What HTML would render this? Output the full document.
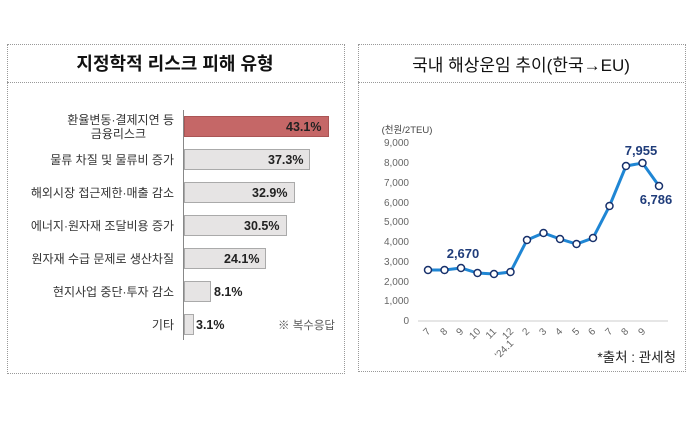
<!DOCTYPE html>
<html><head><meta charset="utf-8"><style>
body{margin:0;width:698px;height:447px;background:#fff;font-family:"Liberation Sans","Noto Sans CJK KR",sans-serif;overflow:hidden;position:relative}
.box{position:absolute;border:1px dotted #999}
.t{position:absolute;white-space:nowrap}
.bar{position:absolute;left:184px;height:21px;background:#e6e4e4;border:1px solid #aaa;box-sizing:border-box}
.lab{position:absolute;right:524px;font-size:12px;color:#333;text-align:right;white-space:nowrap;line-height:14px}
.val{position:absolute;font-size:12.5px;font-weight:bold;color:#222}
</style></head><body>
<div class="box" style="left:7px;top:44px;width:336px;height:328px"></div>
<div class="box" style="left:7px;top:44px;width:336px;height:38px;border-width:0 0 1px 0"></div>
<div class="t" style="left:7px;width:336px;top:50px;text-align:center;font-size:18px;font-weight:bold;color:#111">지정학적 리스크 피해 유형</div>
<div style="position:absolute;left:183px;top:110px;width:1px;height:230px;background:#888"></div>

<div class="bar" style="top:116px;width:145px;background:#c56767;border-color:#a55"></div>
<div class="val" style="left:286px;top:120px">43.1%</div>
<div class="lab" style="top:113px">환율변동·결제지연 등<br><span style="margin-right:28px">금융리스크</span></div>

<div class="bar" style="top:149px;width:126px"></div>
<div class="val" style="left:268px;top:153px">37.3%</div>
<div class="lab" style="top:153px">물류 차질 및 물류비 증가</div>

<div class="bar" style="top:182px;width:111px"></div>
<div class="val" style="left:252px;top:186px">32.9%</div>
<div class="lab" style="top:186px">해외시장 접근제한·매출 감소</div>

<div class="bar" style="top:215px;width:103px"></div>
<div class="val" style="left:244px;top:219px">30.5%</div>
<div class="lab" style="top:219px">에너지·원자재 조달비용 증가</div>

<div class="bar" style="top:248px;width:82px"></div>
<div class="val" style="left:224px;top:252px">24.1%</div>
<div class="lab" style="top:252px">원자재 수급 문제로 생산차질</div>

<div class="bar" style="top:281px;width:27px"></div>
<div class="val" style="left:214px;top:285px">8.1%</div>
<div class="lab" style="top:285px">현지사업 중단·투자 감소</div>

<div class="bar" style="top:314px;width:10px"></div>
<div class="val" style="left:196px;top:318px">3.1%</div>
<div class="lab" style="top:318px">기타</div>
<div class="t" style="left:278px;top:317px;font-size:11.5px;color:#555">※ 복수응답</div>

<div class="box" style="left:358px;top:44px;width:326px;height:326px"></div>
<div class="box" style="left:358px;top:44px;width:326px;height:38px;border-width:0 0 1px 0"></div>
<div class="t" style="left:358px;width:326px;top:51px;text-align:center;font-size:17px;color:#111">국내 해상운임 추이(한국→EU)</div>

<svg style="position:absolute;left:0;top:0" width="698" height="447">
<g font-family="Liberation Sans,Noto Sans CJK KR,sans-serif" font-size="10" fill="#666" text-anchor="end">
<text x="407" y="133" text-anchor="middle" font-size="9.5" fill="#444">(천원/2TEU)</text>
<text x="409" y="146">9,000</text><text x="409" y="166">8,000</text><text x="409" y="186">7,000</text>
<text x="409" y="206">6,000</text><text x="409" y="225">5,000</text><text x="409" y="245">4,000</text>
<text x="409" y="265">3,000</text><text x="409" y="285">2,000</text><text x="409" y="304">1,000</text>
<text x="409" y="324">0</text>
</g>
<line x1="418" y1="321" x2="668" y2="321" stroke="#ccc"/>
<g font-family="Liberation Sans,sans-serif" font-size="10" fill="#666" text-anchor="end">
<text transform="translate(431,332) rotate(-45)">7</text>
<text transform="translate(448,332) rotate(-45)">8</text>
<text transform="translate(464,332) rotate(-45)">9</text>
<text transform="translate(481,332) rotate(-45)">10</text>
<text transform="translate(497,332) rotate(-45)">11</text>
<text transform="translate(514,332) rotate(-45)">12</text>
<text transform="translate(514,344) rotate(-45)">'24.1</text>
<text transform="translate(530,332) rotate(-45)">2</text>
<text transform="translate(547,332) rotate(-45)">3</text>
<text transform="translate(563,332) rotate(-45)">4</text>
<text transform="translate(580,332) rotate(-45)">5</text>
<text transform="translate(596,332) rotate(-45)">6</text>
<text transform="translate(613,332) rotate(-45)">7</text>
<text transform="translate(629,332) rotate(-45)">8</text>
<text transform="translate(646,332) rotate(-45)">9</text>
</g>
<polyline fill="none" stroke="#1f86d4" stroke-width="3" points="428,270 444.5,270 461,268 477.5,273 494,274 510.5,272 527,240 543.5,233 560,239 576.5,244 593,238 609.5,206 626,166 642.5,163 659,186"/>
<g fill="#fff" stroke="#17306b" stroke-width="1.5">
<circle cx="428" cy="270" r="3.5"/><circle cx="444.5" cy="270" r="3.5"/><circle cx="461" cy="268" r="3.5"/><circle cx="477.5" cy="273" r="3.5"/><circle cx="494" cy="274" r="3.5"/><circle cx="510.5" cy="272" r="3.5"/><circle cx="527" cy="240" r="3.5"/><circle cx="543.5" cy="233" r="3.5"/><circle cx="560" cy="239" r="3.5"/><circle cx="576.5" cy="244" r="3.5"/><circle cx="593" cy="238" r="3.5"/><circle cx="609.5" cy="206" r="3.5"/><circle cx="626" cy="166" r="3.5"/><circle cx="642.5" cy="163" r="3.5"/><circle cx="659" cy="186" r="3.5"/>
</g>
<g font-family="Liberation Sans,sans-serif" font-size="13" font-weight="bold" fill="#1f3c7a" text-anchor="middle">
<text x="463" y="258">2,670</text><text x="641" y="155">7,955</text><text x="656" y="204">6,786</text>
</g>
<text x="676" y="362" text-anchor="end" font-family="Liberation Sans,Noto Sans CJK KR,sans-serif" font-size="13.5" fill="#222">*출처 : 관세청</text>
</svg>
</body></html>
